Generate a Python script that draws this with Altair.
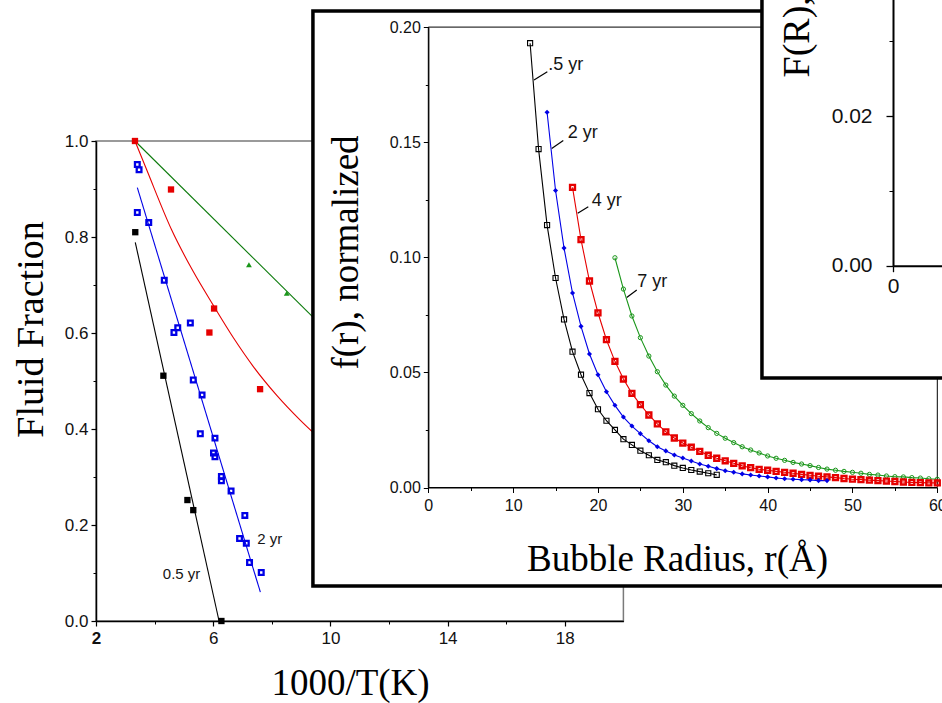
import altair as alt
import pandas as pd

SANS = "Liberation Sans"
SERIF = "Liberation Serif"
W, H = 942, 703

# ---------------- Panel A (back): Fluid fraction vs 1000/T ----------------
A_XDOM, A_XRNG = [2, 20], [96, 623.4]
A_YDOM, A_YRNG = [0, 1], [621, 141]

a_black_x = [3.34, 4.30, 5.12, 5.32, 6.28]
a_black_y = [0.810, 0.511, 0.252, 0.231, 0.000]
a_black_fit_x = [3.34, 6.20]
a_black_fit_y = [0.789, 0.000]

a_blue_x = [3.41, 3.47, 3.41, 3.80, 4.33, 4.66, 4.79, 5.22, 5.32, 5.62, 5.56,
            6.06, 6.01, 6.06, 6.28, 6.28, 6.61, 7.08, 6.90, 7.13, 7.24, 7.64]
a_blue_y = [0.951, 0.940, 0.851, 0.830, 0.710, 0.601, 0.611, 0.621, 0.502, 0.471, 0.390,
            0.381, 0.350, 0.342, 0.301, 0.292, 0.271, 0.220, 0.172, 0.162, 0.122, 0.101]
a_blue_fit_x = [3.41, 7.61]
a_blue_fit_y = [0.903, 0.060]

a_red_x = [3.33, 4.56, 6.03, 5.87, 7.60]
a_red_y = [1.000, 0.899, 0.651, 0.601, 0.483]
a_red_fit_x = [3.33, 3.73, 4.58, 5.30, 6.00, 6.69, 7.37, 8.17, 8.96, 9.60]
a_red_fit_y = [1.000, 0.940, 0.815, 0.730, 0.658, 0.590, 0.530, 0.470, 0.419, 0.382]

a_green_x = [3.33, 7.22, 8.51]
a_green_y = [1.000, 0.742, 0.683]
a_green_fit_x = [3.33, 10.0]
a_green_fit_y = [1.000, 0.597]

a_label_text = ["0.5 yr", "2 yr"]
a_label_x = [4.92, 7.93]
a_label_y = [0.098, 0.170]

# ---------------- Panel B (middle): f(r) vs bubble radius ----------------
B_XDOM, B_XRNG = [0, 60], [428.3, 937.3]
B_YDOM, B_YRNG = [0, 0.2], [487.5, 27.1]
B_FRAME_X, B_FRAME_Y = [-13.6, 75], [-0.0428, 0.207]

r_05 = [12, 13, 14, 15, 16, 17, 18, 19, 20, 21, 22, 23, 24, 25, 26, 27, 28, 29, 30, 31, 32, 33, 34]
f_05 = [0.193, 0.147, 0.114, 0.091, 0.073, 0.059, 0.049, 0.041, 0.034, 0.029, 0.025, 0.021,
        0.0185, 0.016, 0.014, 0.012, 0.011, 0.0095, 0.0085, 0.0076, 0.0069, 0.0062, 0.0055]

r_2 = [14, 15, 16, 17, 18, 19, 20, 21, 22, 23, 24, 25, 26, 27, 28, 29, 30, 31, 32, 33, 34,
       35, 36, 37, 38, 39, 40, 41, 42, 43, 44, 45, 46, 47]
f_2 = [0.163, 0.129, 0.104, 0.0845, 0.070, 0.058, 0.049, 0.0416, 0.0357, 0.0306, 0.0267,
       0.0234, 0.0203, 0.0177, 0.0159, 0.0141, 0.0128, 0.0115, 0.0102, 0.0092, 0.0082,
       0.0073, 0.0066, 0.0059, 0.0054, 0.0050, 0.0046, 0.0041, 0.0038, 0.0036, 0.0034,
       0.0033, 0.0030, 0.0030]

r_4 = [17, 18, 19, 20, 21, 22, 23, 24, 25, 26, 27, 28, 29, 30, 31, 32, 33, 34, 35, 36, 37,
       38, 39, 40, 41, 42, 43, 44, 45, 46, 47, 48, 49, 50, 51, 52, 53, 54, 55, 56, 57, 58, 59, 60]
f_4 = [0.1304, 0.1077, 0.0897, 0.0759, 0.0642, 0.0548, 0.0471, 0.0409, 0.0360, 0.0315,
       0.0276, 0.0242, 0.0215, 0.0193, 0.0175, 0.0157, 0.0140, 0.0127, 0.0116, 0.0105,
       0.0094, 0.0086, 0.0079, 0.0075, 0.0070, 0.0066, 0.0062, 0.0057, 0.0053, 0.0049,
       0.0046, 0.0043, 0.0039, 0.0036, 0.0034, 0.0032, 0.0030, 0.0028, 0.0026, 0.0024,
       0.0022, 0.0021, 0.0020, 0.0020]

r_7 = [22, 23, 24, 25, 26, 27, 28, 29, 30, 31, 32, 33, 34, 35, 36, 37, 38, 39, 40, 41, 42,
       43, 44, 45, 46, 47, 48, 49, 50, 51, 52, 53, 54, 55, 56, 57, 58, 59, 60]
f_7 = [0.0998, 0.0862, 0.0745, 0.0651, 0.0571, 0.0503, 0.0445, 0.0397, 0.0357, 0.0321,
       0.0289, 0.0260, 0.0235, 0.0214, 0.0195, 0.0177, 0.0163, 0.0150, 0.0137, 0.0127,
       0.0118, 0.0109, 0.0102, 0.0095, 0.0087, 0.0080, 0.0075, 0.0070, 0.0066, 0.0062,
       0.0057, 0.0054, 0.0050, 0.0047, 0.0046, 0.0043, 0.0041, 0.0038, 0.0036]

b_label_text = [".5 yr", "2 yr", "4 yr", "7 yr"]
b_label_x = [14.15, 16.43, 19.26, 24.64]
b_label_y = [0.1835, 0.1539, 0.1245, 0.0891]
b_lead_x = [12.46, 14.55, 17.61, 23.39]
b_lead_x2 = [14.03, 15.91, 18.86, 24.57]
b_lead_y = [0.1770, 0.1473, 0.1191, 0.0825]
b_lead_y2 = [0.1806, 0.1507, 0.1220, 0.0858]

# ---------------- Panel C (front, top right): F(R) ----------------
C_XDOM, C_XRNG = [0, 40], [893, 1533]
C_YDOM, C_YRNG = [0, 0.04], [265.7, -33.5]
C_FRAME_X, C_FRAME_Y = [-8.19, 40], [-0.0150, 0.0382]

# ---------------- helpers ----------------
def sc(dom, rng):
    return alt.Scale(domain=dom, range=rng, nice=False, zero=False)

AXS, AYS = sc(A_XDOM, A_XRNG), sc(A_YDOM, A_YRNG)
BXS, BYS = sc(B_XDOM, B_XRNG), sc(B_YDOM, B_YRNG)
CXS, CYS = sc(C_XDOM, C_XRNG), sc(C_YDOM, C_YRNG)

BASE = dict(grid=False, zindex=1, labelFont=SANS, labelColor="#111111", tickColor="black",
            domainColor="black", labelFlush=False, labelOverlap=False,
            titleFont=SERIF, titleFontWeight="normal", titleColor="black")


def minor(orient, offset, values, tick):
    return alt.Axis(orient=orient, offset=offset, values=values, labels=False, domain=False,
                    tickSize=tick, tickWidth=1, title=None, **BASE)


def xy(xs, ys, xaxis=None, yaxis=None):
    return dict(x=alt.X("x:Q", scale=xs, axis=xaxis), y=alt.Y("y:Q", scale=ys, axis=yaxis))


def frame(xs, ys, xr, yr, xaxis=None, yaxis=None, **mk):
    d = pd.DataFrame({"x": [xr[0]], "x2": [xr[1]], "y": [yr[0]], "y2": [yr[1]]})
    return alt.Chart(d).mark_rect(**mk).encode(
        x=alt.X("x:Q", scale=xs, axis=xaxis), x2="x2:Q",
        y=alt.Y("y:Q", scale=ys, axis=yaxis), y2="y2:Q")


def line(xs, ys, xv, yv, color, xaxis=None, yaxis=None, **mk):
    return alt.Chart(pd.DataFrame({"x": xv, "y": yv})).mark_line(
        color=color, strokeWidth=1.1, **mk).encode(**xy(xs, ys, xaxis, yaxis))


def pts(xs, ys, xv, yv, **mk):
    return alt.Chart(pd.DataFrame({"x": xv, "y": yv})).mark_point(opacity=1, **mk).encode(**xy(xs, ys))


def labels(xs, ys, xv, yv, tv, size, align):
    return alt.Chart(pd.DataFrame({"x": xv, "y": yv, "t": tv})).mark_text(
        font=SANS, fontSize=size, color="#151515", align=align, baseline="middle"
    ).encode(**xy(xs, ys), text="t:N")


# ---------------- axes ----------------
A_xaxis = alt.Axis(orient="bottom", offset=A_YRNG[0] - H, values=[2, 6, 10, 14, 18], format="d",
                   labelFontSize=17,
                   labelFontWeight={"condition": {"test": "datum.value == 2", "value": "bold"},
                                    "value": "normal"},
                   tickSize=5, tickWidth=1.2, domainWidth=1.5, labelPadding=4,
                   title="1000/T(K)", titleFontSize=37, titleX=350, titleY=73,
                   titleAlign="center", titleBaseline="alphabetic", titleAngle=0, **BASE)
A_yaxis = alt.Axis(orient="left", offset=-A_XRNG[0], values=[0, 0.2, 0.4, 0.6, 0.8, 1.0],
                   format=".1f", labelFontSize=17, tickSize=5, tickWidth=1.2, domainWidth=1.5,
                   labelPadding=3, title="Fluid Fraction", titleFontSize=38,
                   titleX=-54, titleY=329, titleAlign="center", titleBaseline="alphabetic",
                   titleAngle=270, **BASE)
A_xminor = minor("bottom", A_YRNG[0] - H, [4, 8, 12, 16], 3)
A_yminor = minor("left", -A_XRNG[0], [0.1, 0.3, 0.5, 0.7, 0.9], 3)

B_xaxis = alt.Axis(orient="bottom", offset=B_YRNG[0] - H, values=[0, 10, 20, 30, 40, 50, 60],
                   format="d", labelFontSize=16, tickSize=5, tickWidth=1, domainWidth=1.2,
                   labelPadding=5, title="Bubble Radius, r(Å)", titleFontSize=37,
                   titleX=677, titleY=83, titleAlign="center", titleBaseline="alphabetic",
                   titleAngle=0, **BASE)
B_yaxis = alt.Axis(orient="left", offset=-B_XRNG[0], values=[0, 0.05, 0.10, 0.15, 0.20],
                   format=".2f", labelFontSize=16, tickSize=5, tickWidth=1, domainWidth=1.2,
                   labelPadding=3, title="f(r), normalized", titleFontSize=37,
                   titleX=-71, titleY=252, titleAlign="center", titleBaseline="alphabetic",
                   titleAngle=270, **BASE)
B_xminor = minor("bottom", B_YRNG[0] - H, [5, 15, 25, 35, 45, 55], 3)
B_yminor = minor("left", -B_XRNG[0], [0.025, 0.075, 0.125, 0.175], 3)

C_xaxis = alt.Axis(orient="bottom", offset=C_YRNG[0] - H, values=[0], format="d",
                   labelFontSize=21, tickSize=6, tickWidth=1.3, domainWidth=2, labelPadding=4,
                   title=None, **BASE)
C_yaxis = alt.Axis(orient="left", offset=-C_XRNG[0], values=[0, 0.02], format=".2f",
                   labelFontSize=21, tickSize=7, tickWidth=1.3, domainWidth=2, labelPadding=14,
                   title="F(R), normalized", titleFontSize=38, titleX=-85, titleY=77,
                   titleAlign="left", titleBaseline="alphabetic", titleAngle=270, **BASE)
C_yminor = minor("left", -C_XRNG[0], [0.01, 0.03], 4)
C_xminor = minor("bottom", C_YRNG[0] - H, [5, 15, 25, 35], 4)

BLUE, RED, GREEN, DGREEN = "#0000e6", "#e60000", "#1a961a", "#0b7a0b"

layers = [
    # ---- panel A ----
    frame(AXS, AYS, A_XDOM, A_YDOM, A_xminor, A_yminor, fillOpacity=0, stroke="#7a7a7a", strokeWidth=1.5),
    line(AXS, AYS, a_green_fit_x, a_green_fit_y, DGREEN),
    line(AXS, AYS, a_red_fit_x, a_red_fit_y, RED, interpolate="monotone"),
    line(AXS, AYS, a_blue_fit_x, a_blue_fit_y, BLUE),
    line(AXS, AYS, a_black_fit_x, a_black_fit_y, "black", A_xaxis, A_yaxis),
    pts(AXS, AYS, a_green_x, a_green_y, shape="triangle-up", filled=True, size=34, color=GREEN),
    pts(AXS, AYS, a_red_x, a_red_y, shape="square", filled=True, size=40, color=RED),
    pts(AXS, AYS, a_blue_x, a_blue_y, shape="square", filled=False, size=22, strokeWidth=2.3, color=BLUE),
    pts(AXS, AYS, a_black_x, a_black_y, shape="square", filled=True, size=40, color="black"),
    labels(AXS, AYS, a_label_x, a_label_y, a_label_text, 15, "center"),
    # ---- panel B ----
    frame(BXS, BYS, B_FRAME_X, B_FRAME_Y, fill="white", stroke="black", strokeWidth=3.5),
    frame(BXS, BYS, B_XDOM, B_YDOM, B_xminor, B_yminor, fillOpacity=0, stroke="black", strokeWidth=1),
    line(BXS, BYS, r_7, f_7, GREEN),
    line(BXS, BYS, r_4, f_4, RED),
    line(BXS, BYS, r_2, f_2, BLUE),
    line(BXS, BYS, r_05, f_05, "black", B_xaxis, B_yaxis),
    pts(BXS, BYS, r_7, f_7, shape="circle", filled=False, size=18, strokeWidth=1, color=GREEN),
    pts(BXS, BYS, r_4, f_4, shape="square", filled=False, size=24, strokeWidth=2.4, color=RED),
    pts(BXS, BYS, r_2, f_2, shape="diamond", filled=True, size=26, color=BLUE),
    pts(BXS, BYS, r_05, f_05, shape="square", filled=False, size=26, strokeWidth=1.1, color="black"),
    alt.Chart(pd.DataFrame({"x": b_lead_x, "x2": b_lead_x2, "y": b_lead_y, "y2": b_lead_y2}))
    .mark_rule(color="black", strokeWidth=1.2)
    .encode(x=alt.X("x:Q", scale=BXS, axis=None), x2="x2:Q",
            y=alt.Y("y:Q", scale=BYS, axis=None), y2="y2:Q"),
    labels(BXS, BYS, b_label_x, b_label_y, b_label_text, 18, "left"),
    # ---- panel C ----
    frame(CXS, CYS, C_FRAME_X, C_FRAME_Y, C_xaxis, C_yaxis, fill="white", stroke="black", strokeWidth=3.5),
    frame(CXS, CYS, C_FRAME_X, C_FRAME_Y, C_xminor, C_yminor, fillOpacity=0, strokeOpacity=0),
]

chart = (
    alt.layer(*layers)
    .resolve_scale(x="independent", y="independent")
    .properties(width=W, height=H, autosize=alt.AutoSizeParams(type="none"), padding=0,
                background="white")
    .configure_view(strokeWidth=0)
)

chart.save("out.html", embed_options={"renderer": "svg", "actions": False})
